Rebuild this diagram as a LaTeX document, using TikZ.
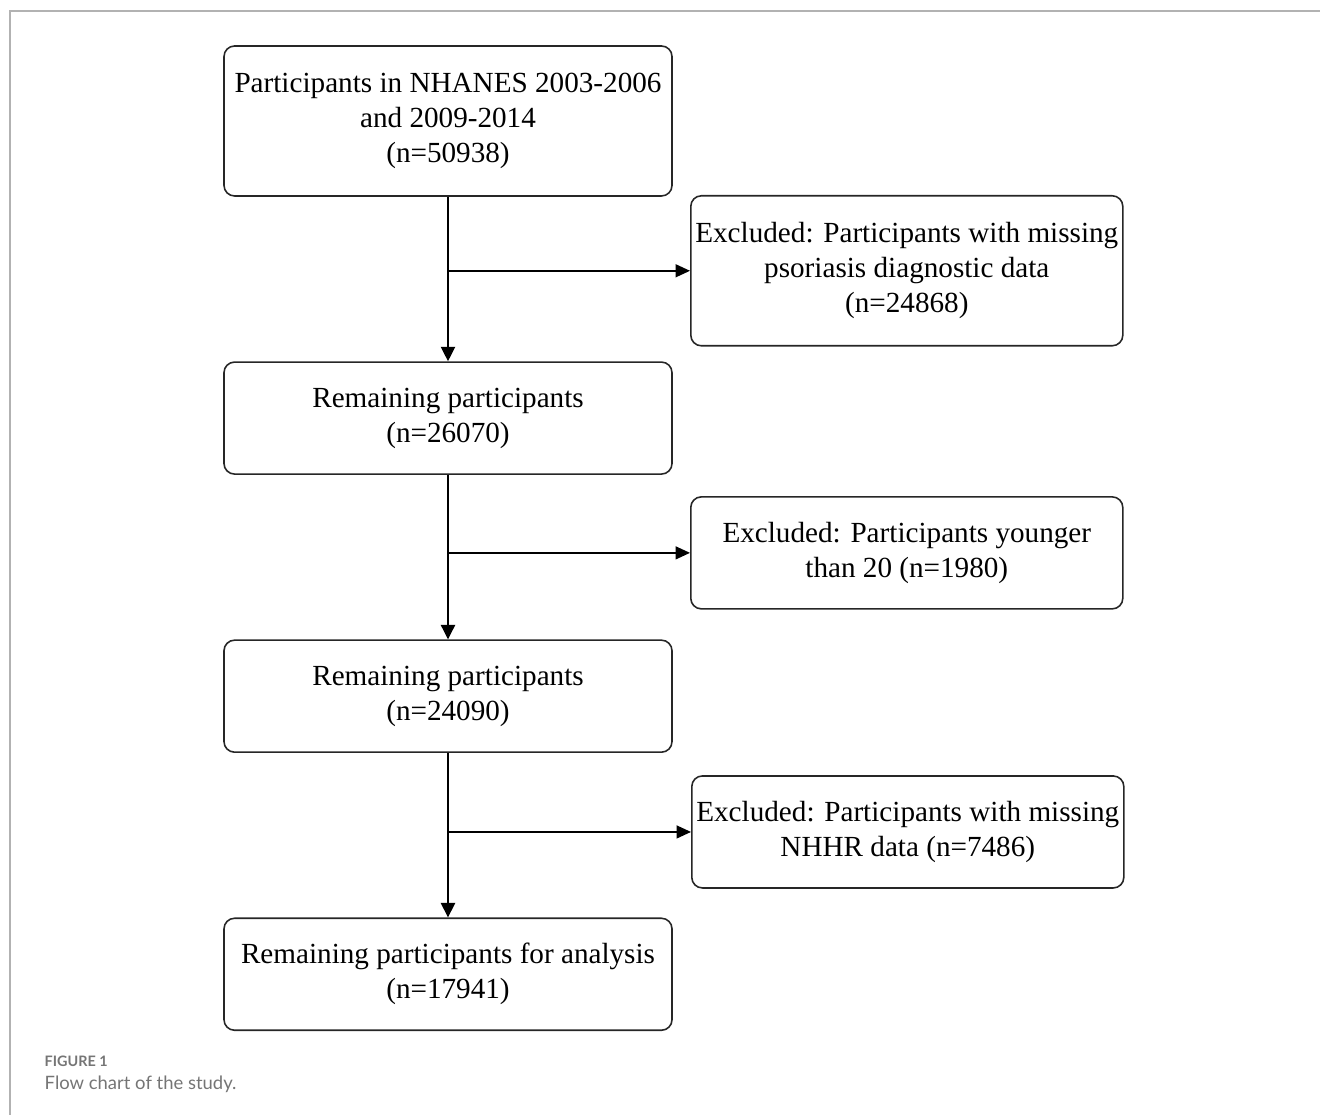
\documentclass[tikz,border=0pt]{standalone}
\usepackage{fontspec}
\setmainfont{Liberation Serif}
\newfontfamily\capfont{Lato}
\usetikzlibrary{arrows.meta,positioning,calc}
\definecolor{capgray}{HTML}{757575}
\tikzset{
  box/.style={draw=black!85, rounded corners=3pt, align=center, fill=white,
    font=\fontsize{8.3}{9.95}\selectfont, minimum width=4.48cm, minimum height=1.12cm,
    inner sep=0.5pt, line width=0.45pt},
  tall/.style={minimum height=1.5cm},
  excl/.style={box, minimum width=4.32cm},
  arr/.style={-{Triangle[length=1.45mm, width=1.4mm]}, line width=0.7pt},
  sidearr/.style={-{Triangle[length=1.45mm, width=1.3mm]}, line width=0.45pt},
  frame/.style={draw=black!30, line width=0.6pt},
  caphead/.style={font=\capfont\bfseries\fontsize{4.1}{5}\selectfont, text=capgray, anchor=base west, inner sep=0pt},
  captext/.style={font=\capfont\fontsize{5.25}{6}\selectfont, text=capgray, anchor=base west, inner sep=0pt}}

\begin{document}
\begin{tikzpicture}[node distance=1.645cm and 0.18cm]
  \useasboundingbox (0,0) rectangle (13.2,-11.15);
  \draw[frame] (0.1,-11.15) -- (0.1,-0.11) -- (13.2,-0.11);
  % main column
  \node[box, tall] (start) at (4.48,-1.21) {Participants in NHANES 2003-2006\\and 2009-2014\\(n=50938)};
  \node[box, below=of start] (rem1) {Remaining participants\\(n=26070)};
  \node[box, below=of rem1] (rem2) {Remaining participants\\(n=24090)};
  \node[box, below=of rem2] (final) {Remaining participants for analysis\\(n=17941)};
  % exclusions
  \coordinate (br1) at ([yshift=-0.74cm]start.south);
  \coordinate (br2) at ([yshift=-0.78cm]rem1.south);
  \coordinate (br3) at ([yshift=-0.79cm]rem2.south);
  \node[excl, tall, anchor=west] (ex1) at ([xshift=2.42cm]br1) {Excluded: Participants with missing\\psoriasis diagnostic data\\(n=24868)};
  \node[excl, anchor=west] (ex2) at ([xshift=2.42cm]br2) {Excluded: Participants younger\\than 20 (n=1980)};
  \node[excl, anchor=west] (ex3) at ([xshift=2.43cm]br3) {Excluded: Participants with missing\\NHHR data (n=7486)};
  \draw[arr] (start) -- (rem1);
  \draw[arr] (rem1) -- (rem2);
  \draw[arr] (rem2) -- (final);
  \draw[sidearr] (br1) -- (ex1);
  \draw[sidearr] (br2) -- (ex2);
  \draw[sidearr] (br3) -- (ex3);
  % caption
  \node[caphead] (fig) at (0.44,-10.66) {FIGURE 1};
  \node[captext] (cap) at (0.44,-10.89) {Flow chart of the study.};
\end{tikzpicture}
\end{document}
